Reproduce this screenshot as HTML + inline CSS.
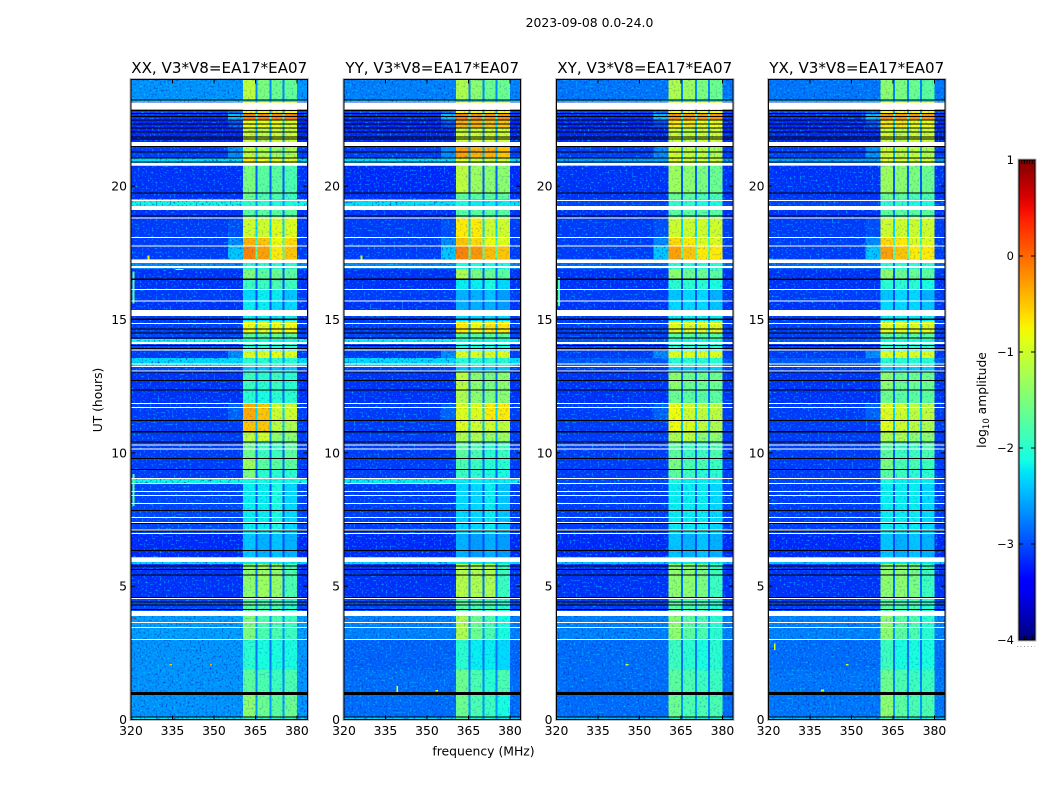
<!DOCTYPE html>
<html>
<head>
<meta charset="utf-8">
<title>2023-09-08 0.0-24.0</title>
<style>
html,body{margin:0;padding:0;background:#fff;}
#chart{display:block;width:1050px;height:800px;}
text{font-family:"DejaVu Sans","Liberation Sans",sans-serif;fill:#000;}
</style>
</head>
<body>
<svg id="chart" xmlns="http://www.w3.org/2000/svg" width="1050" height="800" viewBox="0 0 1050 800">
<defs>
<linearGradient id="jetGrad" x1="0" y1="1" x2="0" y2="0"></linearGradient>
<filter id="grainDark" x="0" y="0" width="1" height="1">
<feTurbulence type="fractalNoise" baseFrequency="0.5" numOctaves="1" seed="4"/>
<feColorMatrix type="matrix" values="0 0 0 0 0  0 0 0 0 0.05  0 0 0 0 0.6  3.0 0 0 0 -1.55"/>
</filter>
<filter id="grainLight" x="0" y="0" width="1" height="1">
<feTurbulence type="fractalNoise" baseFrequency="0.5" numOctaves="1" seed="11"/>
<feColorMatrix type="matrix" values="0 0 0 0 0  0 0 0 0 0.7  0 0 0 0 1  2.6 0 0 0 -1.45"/>
</filter>
</defs>
<text x="589.5" y="27" font-size="12.4" text-anchor="middle">2023-09-08 0.0-24.0</text>
<text x="483.5" y="755.5" font-size="12.4" text-anchor="middle">frequency (MHz)</text>
<text transform="translate(102,400) rotate(-90)" font-size="12.3" text-anchor="middle">UT (hours)</text>
<text transform="translate(986,400) rotate(-90)" font-size="12.3" text-anchor="middle">log<tspan font-size="8.5" dy="3">10</tspan><tspan dy="-3"> amplitude</tspan></text>
<g id="panels"></g>
<g id="colorbar"></g>
</svg>
<script>
// ---- chart data (log10 amplitude, hours UT, frequency MHz) ----
const panelTitles = ["XX, V3*V8=EA17*EA07","YY, V3*V8=EA17*EA07","XY, V3*V8=EA17*EA07","YX, V3*V8=EA17*EA07"];
const xTickLabels = [320,335,350,365,380];
const yTickLabels = [0,5,10,15,20];
const colorbarTickLabels = [1,0,-1,-2,-3,-4];
const segmentStartHours = [0,0.09,1.03,1.86,2.98,3.88,4.59,5.83,6.09,6.99,8.83,9.06,9.39,9.81,10.40,10.78,11.23,11.87,12.35,13.03,13.22,13.56,13.82,14.15,14.26,14.49,14.94,15.13,15.69,16.10,16.52,16.89,17.27,17.75,18.05,18.80,19.10,19.52,19.74,20.75,21.05,21.47,22.18,22.48,22.74,23.15,23.23];
const subBandStartMHz = [360.5,365.7,370.7,375.4];
const subBandEndMHz = [365,370,374.7,380];
const wingBoost = [0,0,0,0,0,0,0,0,0,0,0,0,0,0,0,0,0.2,0,0,0,0,0.4,0,0,0,0,0,0,0,0,0,0,0.7,0.4,0.1,0,0,0,0,0,0.4,0,0.2,0.7,0.2,0,0];
const gapLevels = [-2.6,-2.6,-2.7,-2.8,-2.6,-2.7,-2.8,-2.5,-3,-3,-2.4,-2.9,-2.8,-2.9,-2.6,-2.4,-2.3,-2.8,-2.8,-2.9,-2.6,-2.5,-2.9,-2.4,-2.8,-2.5,-2.9,-3,-3,-3,-2.9,-2.8,-1.7,-1.9,-2.3,-2.7,-2.6,-2.8,-2.9,-2.4,-2.5,-2.6,-2.3,-2,-2.5,-2.5,-2.7];
const bgXX = [-2.2,-2.65,-2.65,-2.65,-2.6,-3.05,-3.15,-2.3,-3.2,-3.05,-2.15,-3.1,-3.1,-3.1,-3.1,-3.1,-3.1,-3.15,-3.15,-3.05,-2.3,-3.1,-3.05,-2.15,-3.05,-3.1,-3.1,-3.15,-3.1,-3.15,-3.15,-2.7,-3.1,-3.1,-3.1,-3.15,-2.15,-3.15,-3.15,-2.3,-3.1,-3.2,-3.2,-3.15,-3.05,-2.3,-2.65];
const bgYY = [-2.3,-2.85,-2.85,-2.9,-2.75,-3.05,-3.15,-2.3,-3.2,-3.1,-2.2,-3.1,-3.1,-3.1,-3.1,-3.1,-3.1,-3.15,-3.15,-3.05,-2.3,-3.1,-3.05,-2.2,-3.05,-3.1,-3.1,-3.15,-3.1,-3.15,-3.15,-2.7,-3.1,-3.1,-3.1,-3.15,-2.25,-3.15,-3.2,-2.3,-3.1,-3.2,-3.2,-3.15,-3.05,-2.3,-2.75];
const bgXY = [-2.4,-2.85,-2.85,-2.85,-2.75,-3.1,-3.15,-2.4,-3.2,-3.1,-3.05,-3.1,-3.1,-3.1,-3.1,-3.1,-3.1,-3.15,-3.15,-3.1,-2.95,-3.1,-3.1,-2.95,-3.1,-3.1,-3.1,-3.15,-3.1,-3.15,-3.15,-2.85,-3.1,-3.1,-3.1,-3.15,-3.05,-3.15,-3.15,-2.6,-3.1,-3.2,-3.2,-3.15,-3.05,-2.4,-2.8];
const bgYX = [-2.4,-2.8,-2.8,-2.85,-2.75,-3.1,-3.15,-2.4,-3.2,-3.1,-3.05,-3.1,-3.1,-3.1,-3.1,-3.1,-3.1,-3.15,-3.15,-3.1,-2.95,-3.1,-3.1,-2.95,-3.1,-3.1,-3.1,-3.15,-3.1,-3.15,-3.15,-2.85,-3.1,-3.1,-3.1,-3.15,-3.05,-3.15,-3.15,-2.6,-3.1,-3.2,-3.2,-3.15,-3.05,-2.4,-2.8];
const bandsXX = [[-2,-2,-2,-2],[-1.4,-1.6,-1.7,-1.6],[-1.7,-1.8,-1.9,-1.8],[-2,-2.1,-2.1,-2.1],[-1.5,-1.8,-1.8,-1.9],[-1.7,-1.8,-1.8,-2],[-1.4,-1.3,-1.35,-1.8],[-2.2,-2.2,-2.2,-2.2],[-2.4,-2.5,-2.4,-2.5],[-2.2,-2.2,-2.1,-2.3],[-2.1,-2.1,-2.1,-2.1],[-1.5,-2,-2,-2],[-1.3,-1.7,-1.7,-1.7],[-1.6,-1.9,-1.9,-1.7],[-1.1,-1,-1.4,-1.4],[-0.5,-0.5,-1.1,-1.2],[-0.35,-0.5,-1,-1],[-2,-2.1,-2,-2],[-1.9,-2,-1.9,-2],[-2.4,-2.4,-2.4,-2.4],[-2,-2,-2,-2],[-0.9,-0.9,-0.8,-0.9],[-2,-2,-2,-2],[-2.1,-2.1,-2.1,-2.1],[-1.7,-1.7,-1.6,-1.7],[-0.8,-0.9,-0.8,-0.8],[-2.2,-2.2,-2.2,-2.2],[-2.2,-2.2,-2.3,-2.3],[-2.3,-2.2,-2.2,-2.4],[-1.9,-1.9,-1.8,-1.9],[-1.5,-1.7,-1.6,-1.7],[-2,-2,-2,-2],[-0.15,-0.3,-0.7,-0.5],[-0.4,-0.5,-0.8,-0.6],[-1,-1,-0.9,-0.9],[-1.7,-1.7,-1.7,-1.7],[-2,-2,-2.1,-2.1],[-1.6,-1.8,-1.8,-1.9],[-1.5,-1.7,-1.7,-1.8],[-0.7,-0.8,-0.9,-0.9],[-1.1,-1.2,-1.3,-1.2],[-1,-1.1,-1,-1],[-0.8,-0.8,-0.8,-0.9],[-0.1,-0.15,-0.15,-0.1],[-0.8,-0.8,-0.8,-0.8],[-2.2,-2.2,-2.2,-2.2],[-1.1,-1.5,-1.6,-1.65]];
const bandsYY = [[-1.9,-2.1,-2.1,-2.2],[-1.6,-1.8,-1.9,-2.1],[-1.6,-1.8,-2,-1.8],[-2,-2.2,-2.2,-2.3],[-1.2,-1.6,-1.8,-2.1],[-1.7,-1.8,-1.8,-2],[-1.15,-1.2,-1.2,-1.9],[-2.2,-2.2,-2.2,-2.2],[-2.5,-2.6,-2.5,-2.6],[-2.3,-2.3,-2.2,-2.4],[-2.2,-2.2,-2.2,-2.2],[-1.9,-2,-2.1,-2.1],[-1.8,-1.9,-2,-2],[-1.7,-1.8,-2,-1.9],[-1.2,-1.2,-1.3,-1.3],[-0.9,-1,-1,-1.1],[-0.9,-0.9,-0.7,-0.7],[-1.2,-1.4,-1.5,-1.4],[-1.1,-1.4,-1.5,-1.4],[-2.4,-2.4,-2.4,-2.4],[-2,-2,-2,-2],[-0.9,-0.9,-0.9,-0.9],[-2.1,-2.1,-2.1,-2.1],[-2.1,-2.1,-2.1,-2.1],[-1.7,-1.7,-1.7,-1.7],[-0.7,-0.8,-0.7,-0.7],[-2.3,-2.3,-2.3,-2.3],[-2.5,-2.5,-2.5,-2.6],[-2.5,-2.5,-2.4,-2.6],[-2.2,-2.2,-2.1,-2.3],[-1.2,-1.5,-1.6,-1.7],[-2.1,-2.1,-2.1,-2.1],[-0.15,-0.25,-0.45,-0.5],[-0.5,-0.6,-0.8,-0.9],[-0.7,-0.7,-1,-1],[-1.7,-1.7,-1.7,-1.7],[-2.1,-2.2,-2.2,-2.2],[-1.7,-1.7,-1.7,-1.7],[-1.1,-1.3,-1.4,-1.4],[-0.9,-1,-1,-1],[-0.3,-0.4,-0.4,-0.5],[-1,-1,-1,-1],[-0.4,-0.4,-0.5,-0.5],[-0.1,-0.2,-0.2,-0.2],[-0.8,-0.8,-0.8,-0.8],[-2.3,-2.3,-2.3,-2.3],[-1.2,-1.4,-1.6,-1.6]];
const bandsXY = [[-2,-2,-2.1,-2.1],[-1.6,-1.8,-1.8,-1.8],[-1.7,-1.8,-1.9,-1.9],[-1.9,-2,-2.1,-2],[-1.4,-1.7,-1.8,-2],[-1.7,-1.8,-1.8,-2],[-1.4,-1.4,-1.5,-1.9],[-2.2,-2.2,-2.2,-2.2],[-2.4,-2.5,-2.4,-2.5],[-2.2,-2.2,-2.2,-2.3],[-2.1,-2.2,-2.2,-2.2],[-1.7,-1.9,-2,-2],[-1.5,-1.8,-1.8,-1.9],[-1.7,-1.9,-1.9,-1.8],[-1.2,-1.1,-1.4,-1.4],[-0.8,-0.9,-1.1,-1.2],[-0.8,-1,-1.1,-1.1],[-1.6,-1.7,-1.7,-1.7],[-1.4,-1.6,-1.6,-1.6],[-2.4,-2.4,-2.4,-2.4],[-2,-2,-2,-2],[-0.9,-0.9,-0.9,-0.9],[-2,-2,-2,-2],[-2.1,-2.1,-2.1,-2.1],[-1.7,-1.7,-1.7,-1.7],[-0.9,-0.9,-0.9,-0.9],[-2.2,-2.2,-2.2,-2.2],[-2.3,-2.3,-2.3,-2.4],[-2.4,-2.3,-2.3,-2.5],[-2,-2,-2,-2.1],[-1.4,-1.6,-1.6,-1.7],[-2,-2,-2,-2],[-0.3,-0.5,-0.7,-0.7],[-0.6,-0.7,-0.9,-0.9],[-1,-1,-1,-1],[-1.7,-1.7,-1.7,-1.7],[-2,-2,-2.1,-2.1],[-1.6,-1.7,-1.8,-1.8],[-1.3,-1.4,-1.5,-1.6],[-0.9,-1,-1,-1],[-1,-1.1,-1.1,-1.2],[-1,-1.1,-1,-1],[-0.7,-0.7,-0.8,-0.8],[-0.2,-0.25,-0.25,-0.25],[-0.8,-0.8,-0.8,-0.8],[-2.2,-2.2,-2.2,-2.2],[-1.2,-1.3,-1.5,-1.6]];
const bandsYX = [[-1.9,-2,-2.1,-2.1],[-1.4,-1.7,-1.8,-1.8],[-1.6,-1.8,-1.9,-1.9],[-1.9,-2.1,-2.1,-2.1],[-1.4,-1.7,-1.8,-2],[-1.7,-1.8,-1.8,-2],[-1.4,-1.4,-1.5,-1.9],[-2.2,-2.2,-2.2,-2.2],[-2.4,-2.5,-2.4,-2.5],[-2.2,-2.2,-2.2,-2.3],[-2.1,-2.2,-2.2,-2.2],[-1.7,-1.9,-2,-2],[-1.5,-1.8,-1.8,-1.9],[-1.7,-1.9,-1.9,-1.8],[-1.2,-1.2,-1.4,-1.4],[-0.9,-1,-1.1,-1.2],[-0.9,-1,-1.1,-1.1],[-1.6,-1.7,-1.7,-1.7],[-1.4,-1.6,-1.6,-1.6],[-2.4,-2.4,-2.4,-2.4],[-2,-2,-2,-2],[-0.9,-0.9,-0.9,-0.9],[-2,-2,-2,-2],[-2.1,-2.1,-2.1,-2.1],[-1.7,-1.7,-1.7,-1.7],[-0.9,-0.9,-0.9,-0.9],[-2.2,-2.2,-2.2,-2.2],[-2.3,-2.3,-2.3,-2.4],[-2.4,-2.3,-2.3,-2.5],[-2,-2,-2,-2.1],[-1.4,-1.6,-1.6,-1.7],[-2,-2,-2,-2],[-0.3,-0.5,-0.7,-0.7],[-0.6,-0.7,-0.9,-0.9],[-1,-1,-1,-1],[-1.7,-1.7,-1.7,-1.7],[-2,-2,-2.1,-2.1],[-1.6,-1.7,-1.8,-1.8],[-1.3,-1.4,-1.5,-1.6],[-0.9,-1,-1,-1],[-1,-1.1,-1.1,-1.2],[-1,-1.1,-1,-1],[-0.7,-0.7,-0.8,-0.8],[-0.2,-0.25,-0.25,-0.25],[-0.8,-0.8,-0.8,-0.8],[-2.2,-2.2,-2.2,-2.2],[-1.4,-1.5,-1.6,-1.7]];
const flaggedSpans = [[2.99,3.02],[3.44,3.47],[3.63,3.66],[3.88,4.06],[4.52,4.55],[5.91,6.08],[6.97,7.00],[7.09,7.12],[7.37,7.40],[7.57,7.60],[8.09,8.12],[8.38,8.41],[8.54,8.57],[8.84,8.87],[9.03,9.06],[10.14,10.17],[10.28,10.31],[11.68,11.71],[11.84,11.87],[13.05,13.08],[13.22,13.25],[13.32,13.35],[13.84,13.87],[14.08,14.15],[14.84,14.87],[15.13,15.36],[15.68,15.71],[16.12,16.15],[16.93,17.00],[17.11,17.25],[17.75,17.78],[18.07,18.10],[18.80,18.83],[19.10,19.25],[19.47,19.49],[20.77,20.87],[21.50,21.65],[22.87,23.13]];
const zeroSpans = [[0.09,0.12],[0.92,1.04],[4.12,4.15],[4.28,4.31],[4.40,4.43],[4.57,4.60],[5.40,5.43],[5.62,5.65],[5.74,5.77],[6.33,6.36],[7.07,7.09],[7.34,7.37],[7.81,7.85],[9.36,9.40],[9.78,9.81],[10.39,10.42],[10.77,10.81],[11.20,11.23],[12.34,12.37],[12.71,12.74],[13.02,13.05],[13.90,13.93],[14.01,14.05],[14.30,14.33],[14.48,14.51],[14.63,14.66],[14.99,15.03],[16.49,16.53],[18.86,18.90],[19.73,19.76],[20.89,20.92],[21.04,21.07],[21.26,21.30],[21.47,21.50],[21.75,21.79],[21.83,21.87],[22.01,22.05],[22.16,22.20],[22.31,22.35],[22.46,22.50],[22.59,22.63],[22.72,22.75],[22.82,22.85],[23.21,23.25]];
const rfiPanel = [0,0,0,0,0,0,0,1,1,1,1,2,2,3,3,3];
const rfiStartMHz = [334,348.5,320.6,326,320.6,320.6,336,320.6,339,353,326,345,320.6,322,339,348];
const rfiEndMHz = [334.8,349.3,321.6,326.7,321.2,321.2,339,321.6,339.5,354,326.6,346,321.2,322.5,340,349];
const rfiStartHour = [2.03,2.03,3.78,17.25,15.6,8.0,16.85,3.78,0.98,1.05,17.25,2.03,15.5,2.6,1.05,2.03];
const rfiEndHour = [2.08,2.08,3.83,17.4,16.8,9.2,16.9,3.83,1.25,1.1,17.4,2.08,16.6,2.85,1.12,2.08];
const rfiLevel = [-0.5,-0.3,0.5,-0.7,-1.7,-1.7,-1.2,0.5,-0.8,-0.8,-1,-1,-1.8,-0.9,-1,-1];

// ---- layout / scales ----
const panelLeft = [131,344,556.5,768.5];
const panelWidth = 176.5, plotTop = 79.5, plotBottom = 719.5;
const freqMin = 320, freqMax = 383.8, hourMax = 24;
const cbLeft = 1019, cbWidth = 16, cbTop = 160, cbBottom = 640, cbMin = -4, cbMax = 1;
const svgNS = "http://www.w3.org/2000/svg";
function xScale(p, f){ return panelLeft[p] + (f - freqMin) / (freqMax - freqMin) * panelWidth; }
function yScale(h){ return plotBottom - h / hourMax * (plotBottom - plotTop); }
function cbScale(v){ return cbBottom - (v - cbMin) / (cbMax - cbMin) * (cbBottom - cbTop); }
function clamp01(v){ return Math.max(0, Math.min(1, v)); }
function jet(t){
  t = clamp01(t);
  let r = t < .35 ? 0 : t < .66 ? (t - .35) / .31 : t < .89 ? 1 : 1 - (t - .89) / .11 * .5;
  let g = t < .125 ? 0 : t < .375 ? (t - .125) / .25 : t < .64 ? 1 : t < .91 ? 1 - (t - .64) / .27 : 0;
  let b = t < .11 ? .5 + t / .11 * .5 : t < .34 ? 1 : t < .65 ? 1 - (t - .34) / .31 : 0;
  return "rgb(" + Math.round(r * 255) + "," + Math.round(g * 255) + "," + Math.round(b * 255) + ")";
}
function levelColor(v){ return jet((v - cbMin) / (cbMax - cbMin)); }
function make(tag, attrs, parent){
  const el = document.createElementNS(svgNS, tag);
  for (const k in attrs) el.setAttribute(k, attrs[k]);
  parent.appendChild(el);
  return el;
}
function minusText(v){ return v < 0 ? "\u2212" + Math.abs(v) : String(v); }

// ---- panels ----
const panelsRoot = document.getElementById("panels");
const backgrounds = [bgXX, bgYY, bgXY, bgYX];
const bandTables = [bandsXX, bandsYY, bandsXY, bandsYX];

function cell(group, p, f0, f1, h0, h1, level){
  const x0 = xScale(p, f0), x1 = xScale(p, f1), y0 = yScale(h1), y1 = yScale(h0);
  const r = make("rect", {x: x0, y: y0, width: x1 - x0, height: y1 - y0, fill: levelColor(level), "shape-rendering": "crispEdges"}, group);
  
  
}

panelTitles.forEach(function(title, p){
  const g = make("g", {}, panelsRoot);
  
  
  const px = panelLeft[p];

  const heat = make("g", {}, g);
  
  
  segmentStartHours.forEach(function(h0, i){
    const h1 = i + 1 < segmentStartHours.length ? segmentStartHours[i + 1] : hourMax;
    const bg = backgrounds[p][i];
    cell(heat, p, freqMin, 355, h0, h1, bg);
    cell(heat, p, 355, subBandStartMHz[0], h0, h1, bg + wingBoost[i]);
    cell(heat, p, subBandEndMHz[3], freqMax, h0, h1, bg);
  });

  const darkGrain = make("rect", {x: px, y: plotTop, width: panelWidth, height: plotBottom - plotTop, filter: "url(#grainDark)"}, g);
  
  
  const lightGrain = make("rect", {x: px, y: plotTop, width: panelWidth, height: plotBottom - plotTop, filter: "url(#grainLight)"}, g);
  
  

  const bandsGroup = make("g", {}, g);
  
  
  segmentStartHours.forEach(function(h0, i){
    const h1 = i + 1 < segmentStartHours.length ? segmentStartHours[i + 1] : hourMax;
    const bands = bandTables[p][i];
    subBandStartMHz.forEach(function(f0, b){
      cell(bandsGroup, p, f0, subBandEndMHz[b], h0, h1, bands[b]);
      const next = b + 1 < subBandStartMHz.length ? subBandStartMHz[b + 1] : null;
      if (next !== null) cell(bandsGroup, p, subBandEndMHz[b], next, h0, h1, gapLevels[i]);
    });
  });
  const bandGrain = make("rect", {x: xScale(p, subBandStartMHz[0]), y: plotTop, width: xScale(p, subBandEndMHz[3]) - xScale(p, subBandStartMHz[0]), height: plotBottom - plotTop, filter: "url(#grainDark)", opacity: 0.35}, g);
  
  

  rfiPanel.forEach(function(owner, i){
    if (owner !== p) return;
    cell(g, p, rfiStartMHz[i], rfiEndMHz[i], rfiStartHour[i], rfiEndHour[i], rfiLevel[i]);
  });

  flaggedSpans.forEach(function(s){
    const r = make("rect", {x: px, y: yScale(s[1]), width: panelWidth, height: Math.max(1, yScale(s[0]) - yScale(s[1])), fill: "#fff", "shape-rendering": "crispEdges"}, g);
    
    
  });
  zeroSpans.forEach(function(s){
    const r = make("rect", {x: px, y: yScale(s[1]), width: panelWidth, height: Math.max(1, yScale(s[0]) - yScale(s[1])), fill: "#000", "shape-rendering": "crispEdges"}, g);
    
    
  });

  const halo = make("rect", {x: px - 1, y: plotTop - 1, width: panelWidth + 2, height: plotBottom - plotTop + 2, fill: "none", stroke: "#bdbdbd", "stroke-width": 1}, g);
  
  
  const frame = make("rect", {x: px, y: plotTop, width: panelWidth, height: plotBottom - plotTop, fill: "none", stroke: "#000", "stroke-width": 1}, g);
  
  

  const ttl = make("text", {x: px + panelWidth / 2, y: 73, "font-size": 15.1, "text-anchor": "middle"}, g);
  ttl.textContent = title;
  
  

  xTickLabels.forEach(function(f){
    const x = xScale(p, f);
    const t1 = make("line", {x1: x, x2: x, y1: plotBottom, y2: plotBottom - 4, stroke: "#000"}, g);
    
    
    const t2 = make("line", {x1: x, x2: x, y1: plotTop, y2: plotTop + 4, stroke: "#000"}, g);
    
    
    const lab = make("text", {x: x, y: 735, "font-size": 12.4, "text-anchor": "middle"}, g);
    lab.textContent = f;
    
    
  });
  yTickLabels.forEach(function(h){
    const y = yScale(h);
    const t1 = make("line", {x1: px, x2: px + 4, y1: y, y2: y, stroke: "#000"}, g);
    
    
    const t2 = make("line", {x1: px + panelWidth, x2: px + panelWidth - 4, y1: y, y2: y, stroke: "#000"}, g);
    
    
    const lab = make("text", {x: px - 4, y: y + 4.5, "font-size": 12.4, "text-anchor": "end"}, g);
    lab.textContent = h;
    
    
  });
});

// ---- colorbar ----
const grad = document.getElementById("jetGrad");
for (let i = 0; i <= 40; i++) {
  make("stop", {offset: (i / 40 * 100) + "%", "stop-color": jet(i / 40)}, grad);
}
const cb = document.getElementById("colorbar");
const cbHalo = make("rect", {x: cbLeft - 1, y: cbTop - 1, width: cbWidth + 2, height: cbBottom - cbTop + 2, fill: "none", stroke: "#bdbdbd"}, cb);


const cbBar = make("rect", {x: cbLeft, y: cbTop, width: cbWidth, height: cbBottom - cbTop, fill: "url(#jetGrad)", stroke: "#000", "stroke-width": 1}, cb);


colorbarTickLabels.forEach(function(v){
  const y = cbScale(v);
  const t1 = make("line", {x1: cbLeft, x2: cbLeft + 4, y1: y, y2: y, stroke: "#000"}, cb);
  
  
  const t2 = make("line", {x1: cbLeft + cbWidth, x2: cbLeft + cbWidth - 4, y1: y, y2: y, stroke: "#000"}, cb);
  
  
  const lab = make("text", {x: cbLeft - 5, y: y + 4, "font-size": 11.5, "text-anchor": "end"}, cb);
  lab.textContent = minusText(v);
  
  
});
[1, 2, 3, 4, 5].forEach(function(n){
  const x = cbLeft + n * cbWidth / 6;
  const a = make("line", {x1: x, x2: x, y1: cbTop, y2: cbTop + 4, stroke: "#000"}, cb);
  
  
  const b = make("line", {x1: x, x2: x, y1: cbBottom, y2: cbBottom - 4, stroke: "#000"}, cb);
  
  
});
const dots = make("line", {x1: 1017, x2: 1035, y1: 646.5, y2: 646.5, stroke: "#999", "stroke-width": 1, "stroke-dasharray": "1 2.5"}, cb);


</script>
</body>
</html>
